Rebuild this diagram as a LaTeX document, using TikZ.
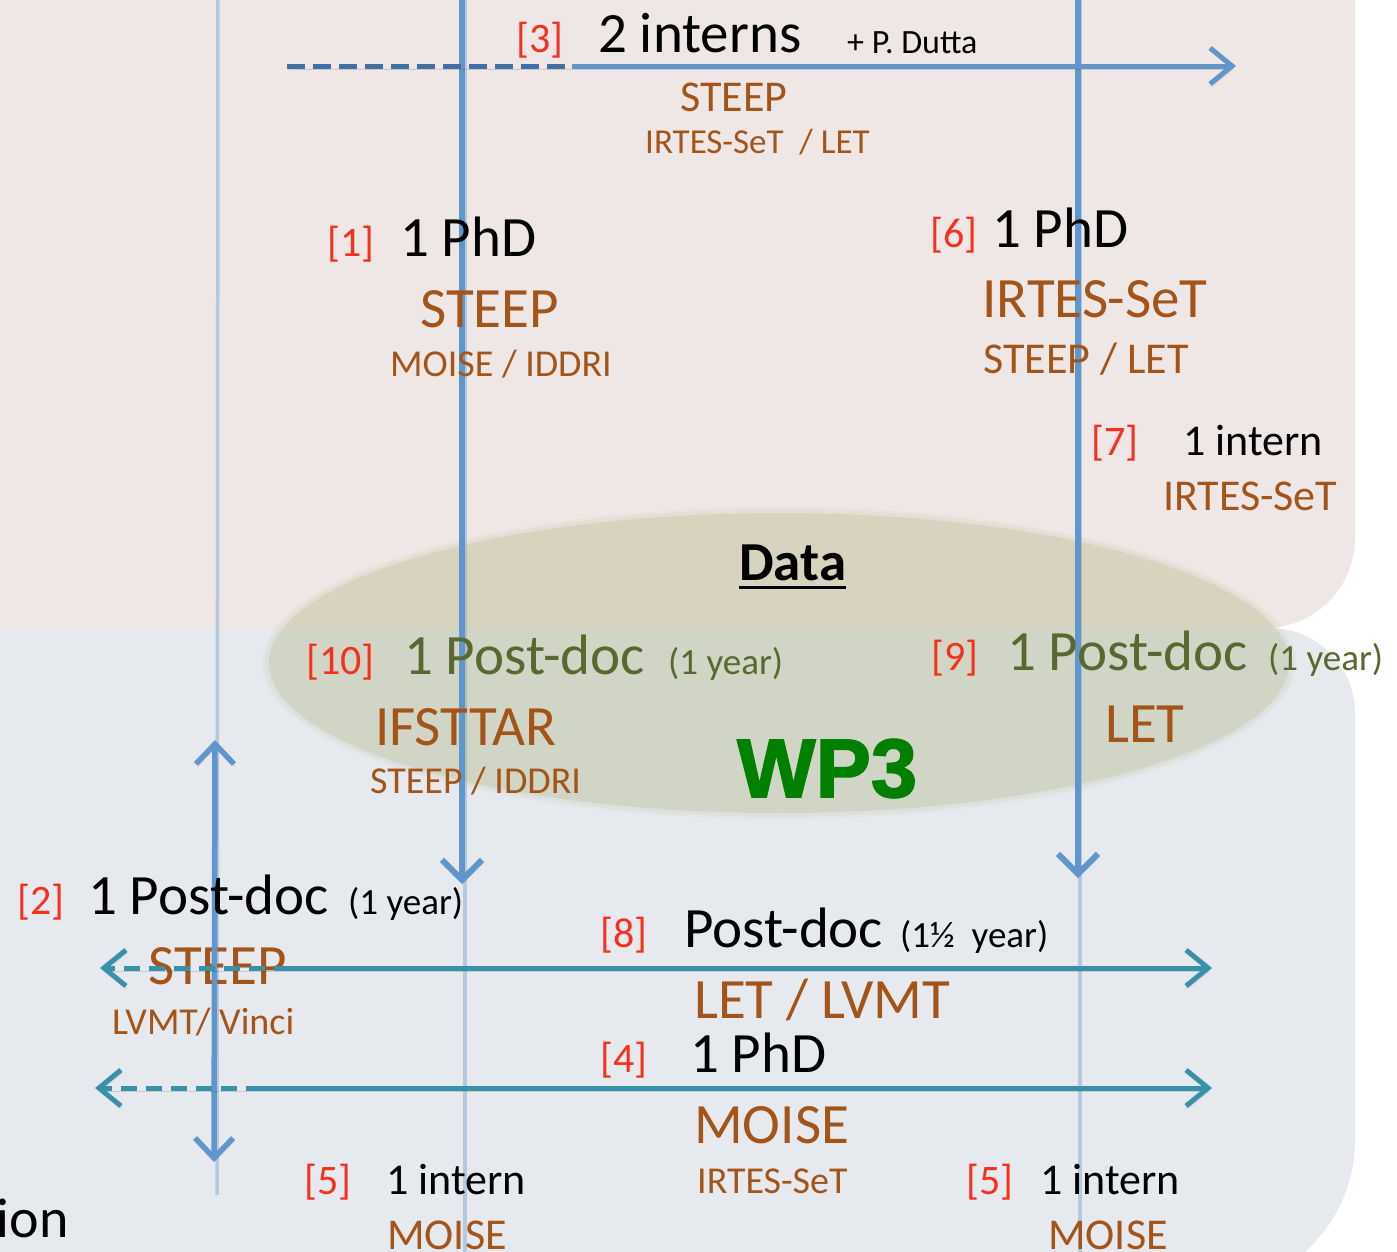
\documentclass[tikz,border=0pt]{standalone}
\usepackage{fontspec}
\setmainfont{Carlito}
\newfontfamily\wpfont{Liberation Sans}[BoldFeatures={FakeBold=2}]
\usetikzlibrary{arrows.meta}
\definecolor{pinkbg}{RGB}{239,230,230}
\definecolor{bluebg}{RGB}{230,233,238}
\definecolor{ellcol}{RGB}{165,170,105}
\definecolor{arrblue}{RGB}{96,150,204}
\definecolor{arrdark}{RGB}{66,112,162}
\definecolor{tealarr}{RGB}{55,145,168}
\definecolor{thinl}{RGB}{180,200,222}
\definecolor{refred}{RGB}{247,48,30}
\definecolor{brn}{RGB}{163,84,24}
\definecolor{olv}{RGB}{88,104,48}
\definecolor{wpgreen}{RGB}{0,128,0}
\tikzset{
  lbl/.style={anchor=base west, inner sep=0pt, text=black},
  refno/.style={lbl, text=refred, font=\fontsize{42}{50}\selectfont},
  bigtxt/.style={lbl, font=\fontsize{57}{68}\selectfont},
  bigbrn/.style={bigtxt, text=brn},
  midtxt/.style={lbl, font=\fontsize{44}{52}\selectfont},
  midbrn/.style={midtxt, text=brn},
  smallbrn/.style={lbl, text=brn, font=\fontsize{38}{46}\selectfont},
  yeartxt/.style={lbl, font=\fontsize{37}{44}\selectfont},
  shadowed/.style={preaction={draw=black, draw opacity=0.13, transform canvas={xshift=1.5pt,yshift=-3pt}}},
  thinline/.style={draw=thinl, line width=3.5pt},
  vthick/.style={draw=arrblue, line width=6pt, shadowed, -{Straight Barb[length=20pt,width=40pt]}},
  vdouble/.style={draw=arrblue, line width=5.5pt, shadowed, {Straight Barb[length=20pt,width=38pt]}-{Straight Barb[length=20pt,width=38pt]}},
  hblue/.style={draw=arrblue, line width=5pt, shadowed, -{Straight Barb[length=22pt,width=36pt]}},
  hbluedash/.style={draw=arrdark, line width=5pt, shadowed, dash pattern=on 18pt off 8pt},
  hteal/.style={draw=tealarr, line width=5pt, shadowed, -{Straight Barb[length=22pt,width=36pt]}},
  htealdash/.style={draw=tealarr, line width=5pt, shadowed, dash pattern=on 16pt off 9pt, -{Straight Barb[length=22pt,width=36pt]}},
}
\begin{document}
\begin{tikzpicture}[x=1pt, y=-1pt]
\useasboundingbox (0,0) rectangle (1397,1251);
% backgrounds
\fill[pinkbg] (-100,-100) -- (1355,-100) -- (1355,538) .. controls (1355,587.7) and (1314.7,628) .. (1265,628) -- (-100,628) -- cycle;
\fill[bluebg] (-100,628) -- (1270,628) .. controls (1316.9,628) and (1355,666.1) .. (1355,713) -- (1355,1140) .. controls (1355,1222.8) and (1287.8,1290) .. (1205,1290) -- (-100,1290) -- cycle;
% thin vertical lines
\coordinate (t1a) at (218,-5);  \coordinate (t1b) at (217,1195);
\coordinate (t2a) at (465,-5);  \coordinate (t2b) at (465,1260);
\coordinate (t3a) at (1080,-5); \coordinate (t3b) at (1080,1260);
\draw[thinline] (t1a) -- (t1b);
\draw[thinline] (t2a) -- (t2b);
\draw[thinline] (t3a) -- (t3b);
% data ellipse (soft edge)
\fill[ellcol, fill opacity=0.06] (779,663) ellipse [x radius=517pt, y radius=156pt];
\fill[ellcol, fill opacity=0.07] (779,663) ellipse [x radius=514pt, y radius=153.5pt];
\fill[ellcol, fill opacity=0.2] (779,663) ellipse [x radius=510pt, y radius=150pt];
% STEEP under the dashed arrow
\node[bigbrn] (steepb) at (148,984) {STEEP};
% vertical arrows
\coordinate (v1a) at (462,-5);  \coordinate (v1b) at (462,884);
\coordinate (v2a) at (1078,-5); \coordinate (v2b) at (1078,878);
\coordinate (v3a) at (215,740); \coordinate (v3b) at (214,1162);
\draw[vthick] (v1a) -- (v1b);
\draw[vthick] (v2a) -- (v2b);
\draw[vdouble] (v3a) -- (v3b);
% horizontal arrows
\coordinate (h3a) at (287,66); \coordinate (h3m) at (572,66); \coordinate (h3b) at (1236,66);
\draw[hbluedash] (h3a) -- (h3m);
\draw[hblue] (h3m) -- (h3b);
\coordinate (h8a) at (290,968); \coordinate (h8l) at (100,968); \coordinate (h8b) at (1212,968);
\draw[htealdash] (h8a) -- (h8l);
\draw[hteal] (h8a) -- (h8b);
\coordinate (h4a) at (262,1088); \coordinate (h4l) at (95,1088); \coordinate (h4b) at (1212,1088);
\draw[htealdash] (h4a) -- (h4l);
\draw[hteal] (h4a) -- (h4b);
% [3]
\node[refno] (r3) at (516,52) {[3]};
\node[bigtxt] (n3) at (598,52) {2 interns};
\node[lbl, font=\fontsize{34}{40}\selectfont] (dutta) at (847,53) {+ P. Dutta};
\node[midbrn] (s3) at (680,111) {STEEP};
\node[lbl, text=brn, font=\fontsize{35}{42}\selectfont] (s3b) at (645,153) {IRTES-SeT\ \ / LET};
% [1]
\node[refno] (r1) at (327,256) {[1]};
\node[bigtxt] (n1) at (400,256) {1 PhD};
\node[bigbrn] (s1) at (420,327) {STEEP};
\node[smallbrn] (s1b) at (390,376) {MOISE / IDDRI};
% [6]
\node[refno] (r6) at (930,247) {[6]};
\node[bigtxt] (n6) at (992,247) {1 PhD};
\node[bigbrn] (s6) at (982,317) {IRTES-SeT};
\node[midbrn] (s6b) at (983,373) {STEEP / LET};
% [7]
\node[refno] (r7) at (1091,455) {[7]};
\node[midtxt] (n7) at (1183,455) {1 intern};
\node[midbrn] (s7) at (1163,510) {IRTES-SeT};
% Data
\node[lbl, font=\bfseries\fontsize{55}{64}\selectfont] (data) at (739,580) {Data};
\draw[line width=3pt] ([yshift=-7pt]data.base west) -- ([yshift=-7pt]data.base east);
% [10]
\node[refno] (r10) at (306,674) {[10]};
\node[bigtxt, text=olv] (n10) at (404,674) {1 Post-doc};
\node[yeartxt, text=olv] (y10) at (668,674) {(1 year)};
\node[bigbrn] (s10) at (375,745) {IFSTTAR};
\node[smallbrn] (s10b) at (370,793) {STEEP / IDDRI};
% WP3
\node[lbl, text=wpgreen, font=\wpfont\bfseries\fontsize{83}{96}\selectfont] (wp3) at (737,797) {WP3};
% [9]
\node[refno] (r9) at (931,670) {[9]};
\node[bigtxt, text=olv] (n9) at (1007,670) {1 Post-doc};
\node[yeartxt, text=olv] (y9) at (1268,670) {(1 year)};
\node[bigbrn] (s9) at (1105,742) {LET};
% [2]
\node[refno] (r2) at (17,914) {[2]};
\node[bigtxt] (n2) at (88,914) {1 Post-doc};
\node[yeartxt] (y2) at (348,914) {(1 year)};
\node[smallbrn] (s2b) at (112,1034) {LVMT/ Vinci};
% [8]
\node[refno] (r8) at (600,947) {[8]};
\node[bigtxt] (n8) at (684,947) {Post-doc};
\node[yeartxt] (y8) at (900,947) {(1½\ \ year)};
\node[bigbrn] (s8) at (694,1018) {LET / LVMT};
% [4]
\node[refno] (r4) at (600,1072) {[4]};
\node[bigtxt] (n4) at (690,1072) {1 PhD};
\node[bigbrn] (s4) at (694,1143) {MOISE};
\node[smallbrn] (s4b) at (697,1193) {IRTES-SeT};
% [5] left
\node[refno] (r5a) at (304,1194) {[5]};
\node[midtxt] (n5a) at (386,1194) {1 intern};
\node[midbrn] (s5a) at (387,1249) {MOISE};
% [5] right
\node[refno] (r5b) at (966,1194) {[5]};
\node[midtxt] (n5b) at (1040,1194) {1 intern};
\node[midbrn] (s5b) at (1048,1249) {MOISE};
% cut-off text at left
\node[lbl, anchor=base east, font=\fontsize{56}{66}\selectfont] (ion) at (69,1237) {ion};
\end{tikzpicture}
\end{document}
